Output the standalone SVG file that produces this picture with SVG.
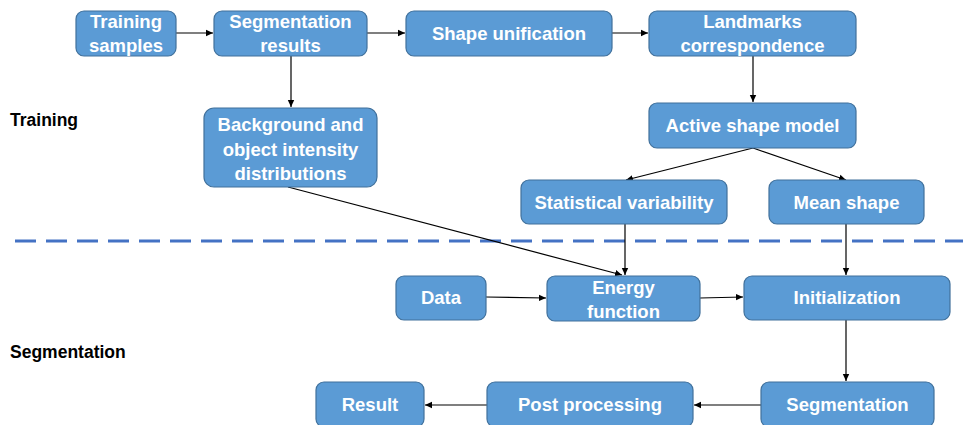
<svg xmlns="http://www.w3.org/2000/svg" width="963" height="425" viewBox="0 0 963 425">
<style>
.box{fill:#5B9BD5;stroke:#41719C;stroke-width:1.2}
.t{font-family:"Liberation Sans",Arial,sans-serif;font-weight:bold;font-size:18.5px;fill:#fff;text-anchor:middle}
.lbl{font-family:"Liberation Sans",Arial,sans-serif;font-weight:bold;font-size:17.5px;fill:#000}
.c{stroke:#000;stroke-width:1.2;fill:none;marker-end:url(#ah)}
</style>
<defs>
<marker id="ah" markerWidth="8" markerHeight="8" refX="7" refY="4" orient="auto" markerUnits="userSpaceOnUse">
<path d="M0,0.8 L7,4 L0,7.2 Z" fill="#000"/>
</marker>
</defs>
<rect width="963" height="425" fill="#fff"/>
<text class="lbl" x="10" y="126">Training</text>
<text class="lbl" x="10" y="358">Segmentation</text>
<line x1="15" y1="241" x2="963" y2="241" stroke="#4472C4" stroke-width="3" stroke-dasharray="21,10"/>
<g id="connectors">
<line class="c" x1="176" y1="33" x2="213" y2="33"/>
<line class="c" x1="367" y1="33" x2="405" y2="33"/>
<line class="c" x1="612" y1="33" x2="648" y2="33"/>
<line class="c" x1="291" y1="56" x2="291" y2="107"/>
<line class="c" x1="753" y1="56" x2="753" y2="102"/>
<line class="c" x1="753" y1="148" x2="626" y2="180"/>
<line class="c" x1="753" y1="148" x2="846" y2="180"/>
<line class="c" x1="288" y1="187" x2="622" y2="275"/>
<line class="c" x1="625" y1="224" x2="625" y2="275"/>
<line class="c" x1="846" y1="224" x2="846" y2="275"/>
<line class="c" x1="486" y1="297" x2="546" y2="298"/>
<line class="c" x1="700" y1="298" x2="743" y2="297"/>
<line class="c" x1="846" y1="320" x2="846" y2="381"/>
<line class="c" x1="761" y1="405" x2="694" y2="405"/>
<line class="c" x1="487" y1="405" x2="425" y2="405"/>
</g>
<g id="training-samples"><rect class="box" x="76" y="11" width="100" height="45" rx="8"/><text class="t" x="126" y="28">Training</text><text class="t" x="126" y="52">samples</text></g>
<g id="segmentation-results"><rect class="box" x="214" y="11" width="153" height="45" rx="8"/><text class="t" x="290.5" y="28">Segmentation</text><text class="t" x="290.5" y="52">results</text></g>
<g id="shape-unification"><rect class="box" x="406" y="11" width="206" height="45" rx="8"/><text class="t" x="509" y="40">Shape unification</text></g>
<g id="landmarks"><rect class="box" x="649" y="11" width="207" height="45" rx="8"/><text class="t" x="752.5" y="28">Landmarks</text><text class="t" x="752.5" y="52">correspondence</text></g>
<g id="background"><rect class="box" x="204" y="108" width="173" height="79" rx="10"/><text class="t" x="290.5" y="131">Background and</text><text class="t" x="290.5" y="156">object intensity</text><text class="t" x="290.5" y="180">distributions</text></g>
<g id="active-shape-model"><rect class="box" x="649" y="103" width="207" height="45" rx="8"/><text class="t" x="752.5" y="132">Active shape model</text></g>
<g id="statistical-variability"><rect class="box" x="521" y="180" width="206" height="44" rx="8"/><text class="t" x="624" y="209">Statistical variability</text></g>
<g id="mean-shape"><rect class="box" x="769" y="180" width="155" height="44" rx="8"/><text class="t" x="846.5" y="209">Mean shape</text></g>
<g id="data"><rect class="box" x="396" y="276" width="90" height="44" rx="8"/><text class="t" x="441" y="304">Data</text></g>
<g id="energy-function"><rect class="box" x="547" y="276" width="153" height="45" rx="8"/><text class="t" x="623.5" y="294">Energy</text><text class="t" x="623.5" y="318">function</text></g>
<g id="initialization"><rect class="box" x="744" y="276" width="206" height="44" rx="8"/><text class="t" x="847" y="304">Initialization</text></g>
<g id="result"><rect class="box" x="316" y="382" width="108" height="45" rx="8"/><text class="t" x="370" y="411">Result</text></g>
<g id="post-processing"><rect class="box" x="487" y="382" width="206" height="45" rx="8"/><text class="t" x="590" y="411">Post processing</text></g>
<g id="segmentation"><rect class="box" x="761" y="382" width="173" height="45" rx="8"/><text class="t" x="847.5" y="411">Segmentation</text></g>
</svg>
